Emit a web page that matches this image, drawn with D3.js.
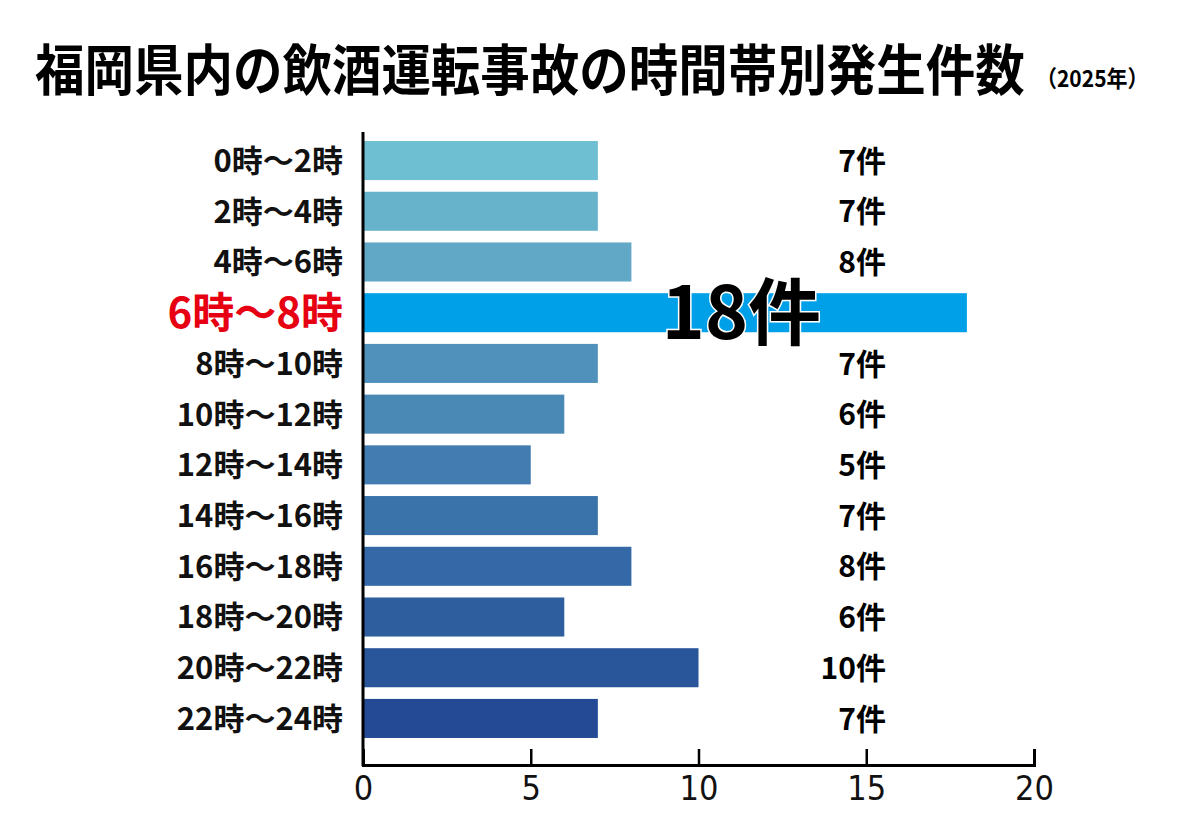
<!DOCTYPE html>
<html>
<head>
<meta charset="utf-8">
<script src="https://cdnjs.cloudflare.com/ajax/libs/d3/7.8.5/d3.min.js"></script>
<style>
  body { margin: 0; background: #fff; }
  svg { display: block; font-family: "Noto Sans CJK JP", "Noto Sans", sans-serif; }
</style>
</head>
<body>
<div id="chart"></div>
<script>
// data
var categories = ["0時～2時", "2時～4時", "4時～6時", "6時～8時", "8時～10時", "10時～12時",
    "12時～14時", "14時～16時", "16時～18時", "18時～20時", "20時～22時", "22時～24時"];
var counts = [7, 7, 8, 18, 7, 6, 5, 7, 8, 6, 10, 7];
var barColors = ["#6dbfd1", "#67b3cc", "#61a7c6", "#00a0e9", "#4f91bb", "#4a88b5",
    "#437cb0", "#3a72aa", "#3468a6", "#2e5e9e", "#29559a", "#244a95"];
var xTicks = [0, 5, 10, 15, 20];
var highlight = "6時～8時";

var width = 1200, height = 831;

var svg = d3.select("#chart").append("svg")
    .attr("width", width)
    .attr("height", height);

// Title (slightly stretched vertically like the original gothic)
svg.append("g")
    .attr("transform", "translate(35,90) scale(1,1.1)")
  .append("text")
    .attr("font-size", 49.5)
    .attr("font-weight", 700)
    .attr("fill", "#000")
    .text("福岡県内の飲酒運転事故の時間帯別発生件数");

svg.append("g")
    .attr("transform", "translate(1036,87) scale(1,1.1)")
  .append("text")
    .attr("font-size", 21)
    .attr("font-weight", 700)
    .text("（2025年）");

// scales
var x = d3.scaleLinear()
    .domain([0, 20])
    .range([363, 1034]);

var y = d3.scaleBand()
    .domain(categories)
    .range([135.2, 743.8])
    .paddingInner(0.23)
    .paddingOuter(0.115);

// Bars
svg.selectAll(".bar")
    .data(categories)
    .enter().append("rect")
    .attr("class", "bar")
    .attr("x", x(0))
    .attr("y", function(d) { return y(d); })
    .attr("width", function(d, i) { return x(counts[i]) - x(0); })
    .attr("height", y.bandwidth())
    .attr("fill", function(d, i) { return barColors[i]; });

// Category labels
svg.selectAll(".cat")
    .data(categories)
    .enter().append("text")
    .attr("class", "cat")
    .attr("x", 343)
    .attr("y", function(d) { return y(d) + y.bandwidth() / 2; })
    .attr("dy", "0.37em")
    .attr("text-anchor", "end")
    .attr("font-weight", 700)
    .attr("font-size", function(d) { return d === highlight ? 42 : 31; })
    .attr("fill", function(d) { return d === highlight ? "#e60012" : "#111"; })
    .text(function(d) { return d; });

// Value labels
svg.selectAll(".val")
    .data(categories)
    .enter().append("text")
    .attr("class", "val")
    .attr("x", function(d) { return d === highlight ? 821 : 886; })
    .attr("y", function(d) { return y(d) + y.bandwidth() / 2; })
    .attr("dy", function(d) { return d === highlight ? "0.36em" : "0.37em"; })
    .attr("text-anchor", "end")
    .attr("font-weight", 700)
    .attr("font-size", function(d) { return d === highlight ? 73 : 30; })
    .attr("fill", "#000")
    .attr("stroke", function(d) { return d === highlight ? "#fff" : "none"; })
    .attr("stroke-width", 3)
    .attr("paint-order", "stroke")
    .text(function(d, i) { return counts[i] + "件"; });

// x axis, ticks pointing up
var xAxis = d3.axisBottom(x)
    .tickValues(xTicks)
    .tickSize(-16)
    .tickPadding(0);

var gx = svg.append("g")
    .attr("transform", "translate(0,765)")
    .call(xAxis);

gx.select(".domain").attr("stroke", "#000").attr("stroke-width", 3);
gx.selectAll(".tick line").attr("stroke", "#000").attr("stroke-width", 2.5);
gx.selectAll(".tick text")
    .attr("y", 11)
    .attr("font-size", 34)
    .attr("font-family", "'Liberation Sans Narrow', 'DejaVu Sans Condensed', sans-serif")
    .attr("font-weight", 400)
    .attr("fill", "#111");

// y axis line
svg.append("line")
    .attr("x1", x(0)).attr("x2", x(0))
    .attr("y1", 132).attr("y2", 766)
    .attr("stroke", "#000")
    .attr("stroke-width", 3);
</script>
</body>
</html>
